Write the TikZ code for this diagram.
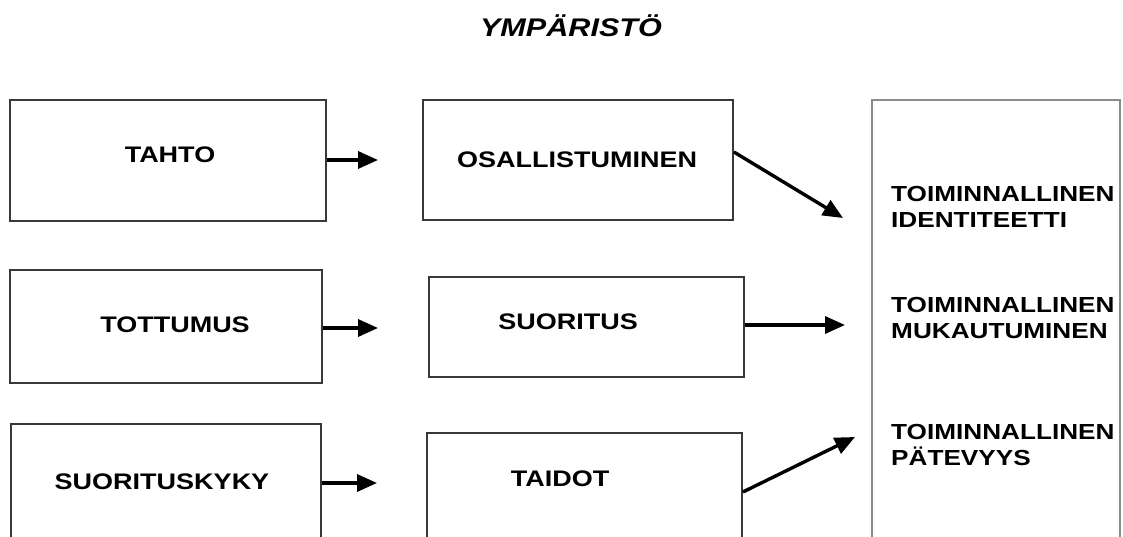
\documentclass[tikz,border=0pt]{standalone}
\usepackage{fontspec}
\newfontfamily\lab[FakeStretch=1.2]{Liberation Sans}
\usetikzlibrary{arrows.meta,calc}
\tikzset{
  box/.style={draw=black!78, line width=1.8pt, rectangle, inner sep=0pt},
  rbox/.style={draw=black!45, line width=2.2pt, rectangle, inner sep=0pt},
  txt/.style={inner sep=0pt, font=\lab\bfseries\fontsize{22.5}{26.5}\selectfont},
  rtxt/.style={inner sep=0pt, font=\lab\bfseries\fontsize{21.8}{26.5}\selectfont, align=left, anchor=north west},
  arr/.style={line width=3.4pt, -{Triangle[length=20pt,width=17pt]}}
}
\begin{document}
\begin{tikzpicture}[x=1pt,y=-1pt]
\useasboundingbox (0,0) rectangle (1123,537);
\clip (0,0) rectangle (1123,537);
% title
\node[inner sep=0pt, anchor=base, font=\lab\bfseries\itshape\fontsize{25.5}{30}\selectfont] (title) at (571,37) {YMPÄRISTÖ};
% boxes
\node[box, minimum width=316pt, minimum height=121pt] (tahto) at (168,160.5) {};
\node[box, minimum width=310pt, minimum height=120pt] (osal) at (578,160) {};
\node[box, minimum width=312pt, minimum height=113pt] (tott) at (166,326.5) {};
\node[box, minimum width=315pt, minimum height=100pt] (suor) at (586.5,327) {};
\node[box, minimum width=310pt, minimum height=200pt] (kyky) at (166,524) {};
\node[box, minimum width=315pt, minimum height=200pt] (taid) at (584.5,533) {};
\node[rbox, minimum width=248pt, minimum height=500pt] (res) at (996,350) {};
% texts
\node[txt] (ttahto) at (170,155) {TAHTO};
\node[txt] (tosal) at (577,160) {OSALLISTUMINEN};
\node[txt] (ttott) at (175,325) {TOTTUMUS};
\node[txt] (tsuor) at (568,322) {SUORITUS};
\node[txt] (tkyky) at (162,482) {SUORITUSKYKY};
\node[txt] (ttaid) at (560,479) {TAIDOT};
\node[rtxt] (r1) at (891,186) {TOIMINNALLINEN\\IDENTITEETTI};
\node[rtxt] (r2) at (891,297) {TOIMINNALLINEN\\MUKAUTUMINEN};
\node[rtxt] (r3) at (891,424) {TOIMINNALLINEN\\PÄTEVYYS};
% arrow tips
\coordinate (e1) at (378,160);
\coordinate (e2) at (378,328);
\coordinate (e3) at (377,483);
\coordinate (e4) at (843,218);
\coordinate (e5) at (845,325);
\coordinate (e6) at (855,437);
\coordinate (s4) at (733,152);
\coordinate (s6) at (743,492);
% arrows
\draw[arr] (tahto.east |- e1) -- (e1);
\draw[arr] (tott.east |- e2) -- (e2);
\draw[arr] (kyky.east |- e3) -- (e3);
\draw[arr] (osal.east |- s4) -- (e4);
\draw[arr] (suor.east |- e5) -- (e5);
\draw[arr] (taid.east |- s6) -- (e6);
\end{tikzpicture}
\end{document}
